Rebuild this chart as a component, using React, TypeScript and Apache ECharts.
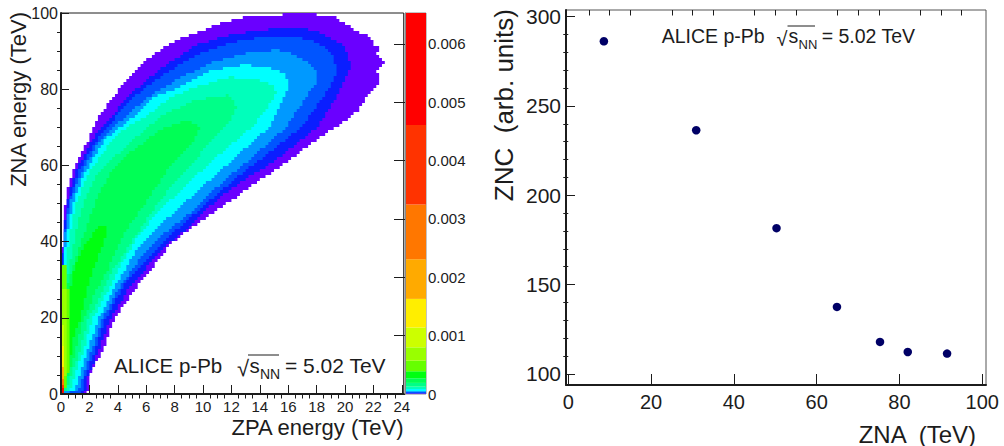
import React, { useEffect, useRef } from "react";
import * as echarts from "echarts";

// ---- left panel: outlines of the density bands as [ZPA TeV, ZNA TeV]
const band0 = [[0,0],[1.89,0],[1.96,3.7],[2.25,6.8],[2.88,10.8],[3.3,14.7],[3.72,19.4],[5.33,28.1],[6.6,33.9],[7.79,39.6],[9.19,43.6],[11.02,48.3],[12.35,51.7],[13.82,55.6],[14.88,58.3],[16.42,62.2],[17.96,66.7],[19.79,71.1],[20.98,74.5],[21.47,77.7],[22.04,79.8],[22.53,81.9],[22.18,85],[22.88,86.9],[22.25,89.5],[22.53,91.6],[22.04,91.6],[21.68,94.2],[20.98,94.8],[20.28,96.9],[19.79,97.6],[19.09,99.5],[18.39,99.5],[16.77,100],[15.37,99.5],[13.12,99.5],[12.77,98.7],[11.37,97.6],[10.46,96.1],[9.05,94.2],[7.65,92.1],[5.75,87.1],[4.14,80.3],[2.74,73.2],[1.82,65.9],[0.77,58],[0.49,54.3],[0.28,49.1],[0.14,43],[0.07,35.2],[0,24.7]];
const band1 = [[0,0],[1.68,0],[1.82,3.7],[2.6,10.8],[3.44,19.4],[4.84,28.1],[7.3,38.6],[9.19,44.4],[11.16,51.7],[13.12,56.7],[15.16,61.4],[18.04,70.1],[19.58,79],[20.42,86.4],[19.93,91.6],[18.18,95],[16.56,96.3],[14.18,95.5],[11.86,94.2],[9.54,91.6],[7.16,85.8],[4.84,78.5],[2.18,66.7],[0.98,58],[0.42,50.1],[0.14,40.4],[0,27.3]];
const band2 = [[0,0],[1.47,0],[1.61,3.7],[2.32,10.8],[3.09,19.4],[4.35,28.1],[5.19,31.8],[6.81,38.6],[8.91,45.7],[10.67,51.4],[12.77,58],[13.96,61.4],[16.98,70.1],[18.67,79],[19.44,84.5],[19.23,88.2],[18.53,91],[17.47,93],[16.56,93.7],[14.18,93.7],[11.86,92.1],[9.54,89],[7.16,83.7],[4.84,77.2],[2.53,66.7],[1.19,58],[0.56,50.1],[0.18,40.4],[0.11,32.5],[0,27.3]];
const band3 = [[0,0],[1.26,0.8],[1.47,3.7],[2.11,10.8],[2.88,19.4],[4.14,28.1],[5.68,36],[7.3,42.3],[9.4,48.3],[10.25,51.7],[12.07,58],[13.26,61.4],[15.86,70.1],[17.47,79],[18.11,81.9],[18.04,84.5],[17.19,87.6],[16.07,89.8],[15.16,90.3],[13.05,89.5],[10.67,87.1],[8.35,82.9],[6.04,77.7],[4.84,73.8],[2.74,66.7],[1.4,58],[0.63,50.1],[0.21,40.4],[0.14,32.5],[0.04,27.3],[0,0.8]];
const band4 = [[0,0.8],[0.98,0.8],[1.19,3.7],[1.82,10.8],[2.6,19.4],[3.79,28.1],[5.19,37],[6.81,43.8],[8.91,50.9],[11.02,58],[12.07,61.4],[14.67,70.1],[15.86,79],[16.07,81.6],[15.72,84],[14.67,85.8],[12.77,86.4],[10.67,85],[8.35,80.6],[6.46,77.7],[4.84,71.9],[3.09,66.7],[1.68,58],[0.84,50.1],[0.35,40.4],[0.14,32.5],[0.04,27.3]];
const band5 = [[0,0.8],[0.63,0.8],[0.84,3.7],[1.54,10.8],[2.18,19.4],[3.44,28.1],[4,32.5],[5.4,41.2],[7.09,49.1],[7.86,51.4],[10.67,61.4],[13.47,70.1],[14.67,75.8],[15.16,79.3],[14.81,81.3],[13.96,82.4],[11.86,83.2],[9.54,80.6],[7.65,77.7],[6.04,73],[4.84,70.6],[3.58,66.7],[1.96,58],[1.05,50.1],[0.56,40.4],[0.28,32.5],[0.11,27.3]];
const band6 = [[0,0.8],[0.35,0.8],[0.63,3.7],[1.26,10.8],[1.89,19.4],[3.09,28.1],[3.65,32.5],[4.84,39.1],[6.25,47],[7.65,54.1],[9.05,59.6],[10.46,65.9],[11.86,71.1],[12.35,75.3],[11.86,78.5],[9.54,77.2],[7.16,73.2],[5.05,66.7],[2.6,58],[1.68,51],[1.19,45],[0.77,37],[0.42,29.9],[0.14,26]];
const band7 = [[0,0.8],[0.21,0.8],[0.42,3.7],[0.98,10.8],[1.54,19.4],[2.6,28.1],[3.3,32.5],[4.28,41.2],[6.11,51],[7.65,59.6],[9.26,65.9],[9.75,70.1],[9.05,71.9],[7.16,69.8],[4.84,63.3],[3.44,58],[2.39,50.1],[1.47,40.4],[0.77,32.5],[0.35,27.3]];
const band8 = [[3.3,44],[2.95,39],[2.39,33.9],[1.89,28.6],[1.33,19.4],[0.84,14.4],[0.56,6.3],[0.42,6.3],[0.42,16.8],[0.63,27.3],[1.05,34.6],[1.89,40.4],[2.74,44]];
const band9 = [[0.07,33.9],[0.35,33.9],[0.56,24.7],[0.63,14.4],[0.49,5],[0.21,0],[0,0],[0,33.9]];
const band10 = [[0,27.3],[0.42,27.3],[0.42,16.8],[0.35,6.3],[0.14,0.5],[0,0.5]];
const band11 = [[0,18],[0.28,18],[0.28,6.3],[0.14,1],[0,1]];
const band12 = [[0,12.6],[0.25,12.6],[0.25,3.7],[0.14,1],[0,1]];
const band13 = [[0,6.8],[0.25,6.8],[0.25,2.4],[0,1.6]];
const band14 = [[0,4.2],[0.21,4.2],[0.21,0.5],[0,0.5]];
const band15 = [[0,2.4],[0.21,2.4],[0.21,0.5],[0,0.5]];
const band16 = [[0,1.3],[0.21,1.3],[0.21,0],[0,0]];
const bandOutlines = [band0, band1, band2, band3, band4, band5, band6, band7, band8, band9, band10, band11, band12, band13, band14, band15, band16];
const bandColors = ["#6a00ff","#0a1eff","#0055ff","#0099ff","#00ffff","#00ffbb","#00ff88","#00ff55","#00ff11","#66ff00","#99ff00","#ccff00","#ffee00","#ffaa00","#ff7700","#ff3300","#ff0000"];
const bandEdges = [0,0.000008,0.000017,0.000034,0.00005,0.000086,0.000125,0.00019,0.00027,0.00039,0.00057,0.0008,0.00114,0.00163,0.00231,0.00325,0.00461,0.00653];
const binWidth = 0.2;
const binHeight = 100 / 127;
const colorTicks = [0,0.001,0.002,0.003,0.004,0.005,0.006];
const zpaMajor = [0,2,4,6,8,10,12,14,16,18,20,22,24];
const zpaMinor = [0.5,1,1.5,2.5,3,3.5,4.5,5,5.5,6.5,7,7.5,8.5,9,9.5,10.5,11,11.5,12.5,13,13.5,14.5,15,15.5,16.5,17,17.5,18.5,19,19.5,20.5,21,21.5,22.5,23,23.5];
const znaMajor = [0,20,40,60,80,100];
const znaMinor = [5,10,15,25,30,35,45,50,55,65,70,75,85,90,95];

// ---- right panel
const znaValues = [8.6,30.9,50.3,64.9,75.3,82.0,91.5];
const zncValues = [286.2,236.4,181.6,137.5,117.9,112.3,111.4];
const rZnaMajor = [0,20,40,60,80,100];
const rZnaMinor = [5,10,15,25,30,35,45,50,55,65,70,75,85,90,95];
const rZncMajor = [100,150,200,250,300];
const rZncMinor = [110,120,130,140,160,170,180,190,210,220,230,240,260,270,280,290];

const FONT = '"Liberation Sans", Arial, sans-serif';
const INK = "#1c1c1c";

function inside(poly: number[][], x: number, y: number) {
  let hit = false;
  for (let i = 0, j = poly.length - 1; i < poly.length; j = i++) {
    const [xi, yi] = poly[i];
    const [xj, yj] = poly[j];
    if (yi > y !== yj > y && x < ((xj - xi) * (y - yi)) / (yj - yi) + xi) hit = !hit;
  }
  return hit;
}

// each histogram row of each band becomes one or more [x0, x1, y0, y1, band] runs
function bandRuns() {
  const runs: number[][] = [];
  bandOutlines.forEach((poly, band) => {
    for (let r = 0; r < 127; r++) {
      const yc = (r + 0.5) * binHeight;
      let start = -1;
      for (let c = 0; c <= 121; c++) {
        const on = c < 121 && inside(poly, (c + 0.5) * binWidth, yc);
        if (on && start < 0) start = c;
        if (!on && start >= 0) {
          runs.push([start * binWidth, c * binWidth, r * binHeight, (r + 1) * binHeight, band]);
          start = -1;
        }
      }
    }
  });
  return runs;
}

function label(text: string, x: number, baseline: number, size: number) {
  return {
    type: "text", x, y: baseline - size * 0.35, z: 20,
    style: { text, fill: INK, font: `${size}px ${FONT}`, align: "left", verticalAlign: "middle" },
  };
}

function overline(x1: number, x2: number, y: number) {
  return { type: "line", z: 20, shape: { x1, y1: y, x2, y2: y }, style: { stroke: INK, lineWidth: 1 } };
}

function title(text: string, x: number, y: number, size: number) {
  return {
    type: "text", x, y, z: 20,
    style: { text, fill: INK, font: `${size}px ${FONT}`, align: "right", verticalAlign: "middle" },
  };
}

function vTitle(text: string, x: number, y: number, size: number) {
  return { ...title(text, x, y, size), rotation: Math.PI / 2 };
}

function valueAxis(min: number, max: number, ticks: number[], tickLen: number, extra: any) {
  return {
    type: "value", min, max, z: 10,
    splitLine: { show: false },
    axisTick: { show: true, inside: true, length: tickLen, customValues: ticks, lineStyle: { color: INK, width: 1 } },
    ...extra,
  };
}

function hiddenLabelAxis(min: number, max: number, ticks: number[], tickLen: number) {
  return valueAxis(min, max, ticks, tickLen, { axisLine: { show: false }, axisLabel: { show: false } });
}

function labelledAxis(min: number, max: number, ticks: number[], tickLen: number, fontSize: number, margin: number) {
  return valueAxis(min, max, ticks, tickLen, {
    axisLine: { show: true, onZero: false, lineStyle: { color: INK, width: 2 } },
    axisLabel: { show: true, customValues: ticks, fontSize, margin, color: INK, fontFamily: FONT },
  });
}

export default function App() {
  const ref = useRef<HTMLDivElement>(null);
  useEffect(() => {
    document.body.style.margin = "0";
    const chart = echarts.init(ref.current!, undefined, { renderer: "svg" });
    const frame = { show: true, borderColor: INK, borderWidth: 1, backgroundColor: "transparent" };
    chart.setOption({
      animation: false,
      backgroundColor: "#fff",
      grid: [
        { left: 61, top: 13, width: 342.7, height: 381, ...frame },
        { left: 405, top: 13, width: 21, height: 381, show: true, borderColor: "#888", borderWidth: 1 },
        { left: 566, top: 10, width: 420, height: 375, show: true, borderColor: "#555", borderWidth: 1 },
      ],
      xAxis: [
        { ...labelledAxis(0, 24.13, zpaMajor, 9, 15, 5), gridIndex: 0 },
        { ...hiddenLabelAxis(0, 24.13, zpaMinor, 4.5), gridIndex: 0 },
        { type: "value", gridIndex: 1, min: 0, max: 1, show: false },
        { ...labelledAxis(-0.55, 100.9, rZnaMajor, 11, 20, 7), gridIndex: 2 },
        { ...hiddenLabelAxis(-0.55, 100.9, rZnaMinor, 5.5), gridIndex: 2 },
      ],
      yAxis: [
        { ...labelledAxis(0, 100, znaMajor, 8, 16, 3), gridIndex: 0 },
        { ...hiddenLabelAxis(0, 100, znaMinor, 4), gridIndex: 0 },
        {
          ...valueAxis(0, bandEdges[bandEdges.length - 1], colorTicks, 11, {}),
          gridIndex: 1, position: "right",
          axisLine: { show: true, lineStyle: { color: "#888", width: 1 } },
          axisLabel: {
            show: true, customValues: colorTicks, fontSize: 15, margin: 2, color: INK, fontFamily: FONT,
            formatter: (v: number) => (v === 0 ? "0" : v.toFixed(3)),
          },
        },
        { ...labelledAxis(93.8, 303.7, rZncMajor, 9, 21, 5), gridIndex: 2 },
        { ...hiddenLabelAxis(93.8, 303.7, rZncMinor, 5), gridIndex: 2 },
      ],
      series: [
        {
          type: "custom", xAxisIndex: 0, yAxisIndex: 0, coordinateSystem: "cartesian2d",
          data: bandRuns(), encode: { x: [0, 1], y: [2, 3] }, silent: true,
          renderItem: (_: any, api: any) => {
            const a = api.coord([api.value(0), api.value(2)]);
            const b = api.coord([api.value(1), api.value(3)]);
            return {
              type: "rect",
              shape: { x: a[0], y: b[1], width: b[0] - a[0], height: a[1] - b[1] },
              style: { fill: bandColors[api.value(4)] },
            };
          },
        },
        {
          type: "custom", xAxisIndex: 2, yAxisIndex: 2, coordinateSystem: "cartesian2d",
          data: bandColors.map((_, i) => [0, 1, bandEdges[i], bandEdges[i + 1], i]),
          encode: { x: [0, 1], y: [2, 3] }, silent: true,
          renderItem: (_: any, api: any) => {
            const a = api.coord([api.value(0), api.value(2)]);
            const b = api.coord([api.value(1), api.value(3)]);
            return {
              type: "rect",
              shape: { x: a[0], y: b[1], width: b[0] - a[0], height: a[1] - b[1] },
              style: { fill: bandColors[api.value(4)] },
            };
          },
        },
        {
          type: "scatter", xAxisIndex: 3, yAxisIndex: 3,
          data: znaValues.map((v, i) => [v, zncValues[i]]),
          symbol: "circle", symbolSize: 8.5, itemStyle: { color: "#000066", opacity: 1 },
        },
      ],
      graphic: [
        label("ALICE p-Pb", 114, 372.7, 20.5),
        label("√", 237, 376, 22),
        overline(248, 279, 355),
        label("s", 249.5, 372.7, 20.5),
        label("NN", 260, 379, 14),
        label("= 5.02 TeV", 285, 372.7, 21),
        label("ALICE p-Pb", 661.7, 43, 19.5),
        label("√", 776.5, 46, 20),
        overline(787.5, 815, 26),
        label("s", 788.5, 43, 19.5),
        label("NN", 798.5, 49, 13),
        label("= 5.02 TeV", 821.7, 43, 19.5),
        title("ZPA energy (TeV)", 403.5, 427, 22),
        vTitle("ZNA energy (TeV)", 18, 12, 22),
        title("ZNA  (TeV)", 976, 434, 24),
        vTitle("ZNC  (arb. units)", 504, 9, 26),
      ],
    });
    return () => chart.dispose();
  }, []);
  return <div ref={ref} style={{ position: "absolute", left: 0, top: 0, width: 1004, height: 446 }} />;
}
